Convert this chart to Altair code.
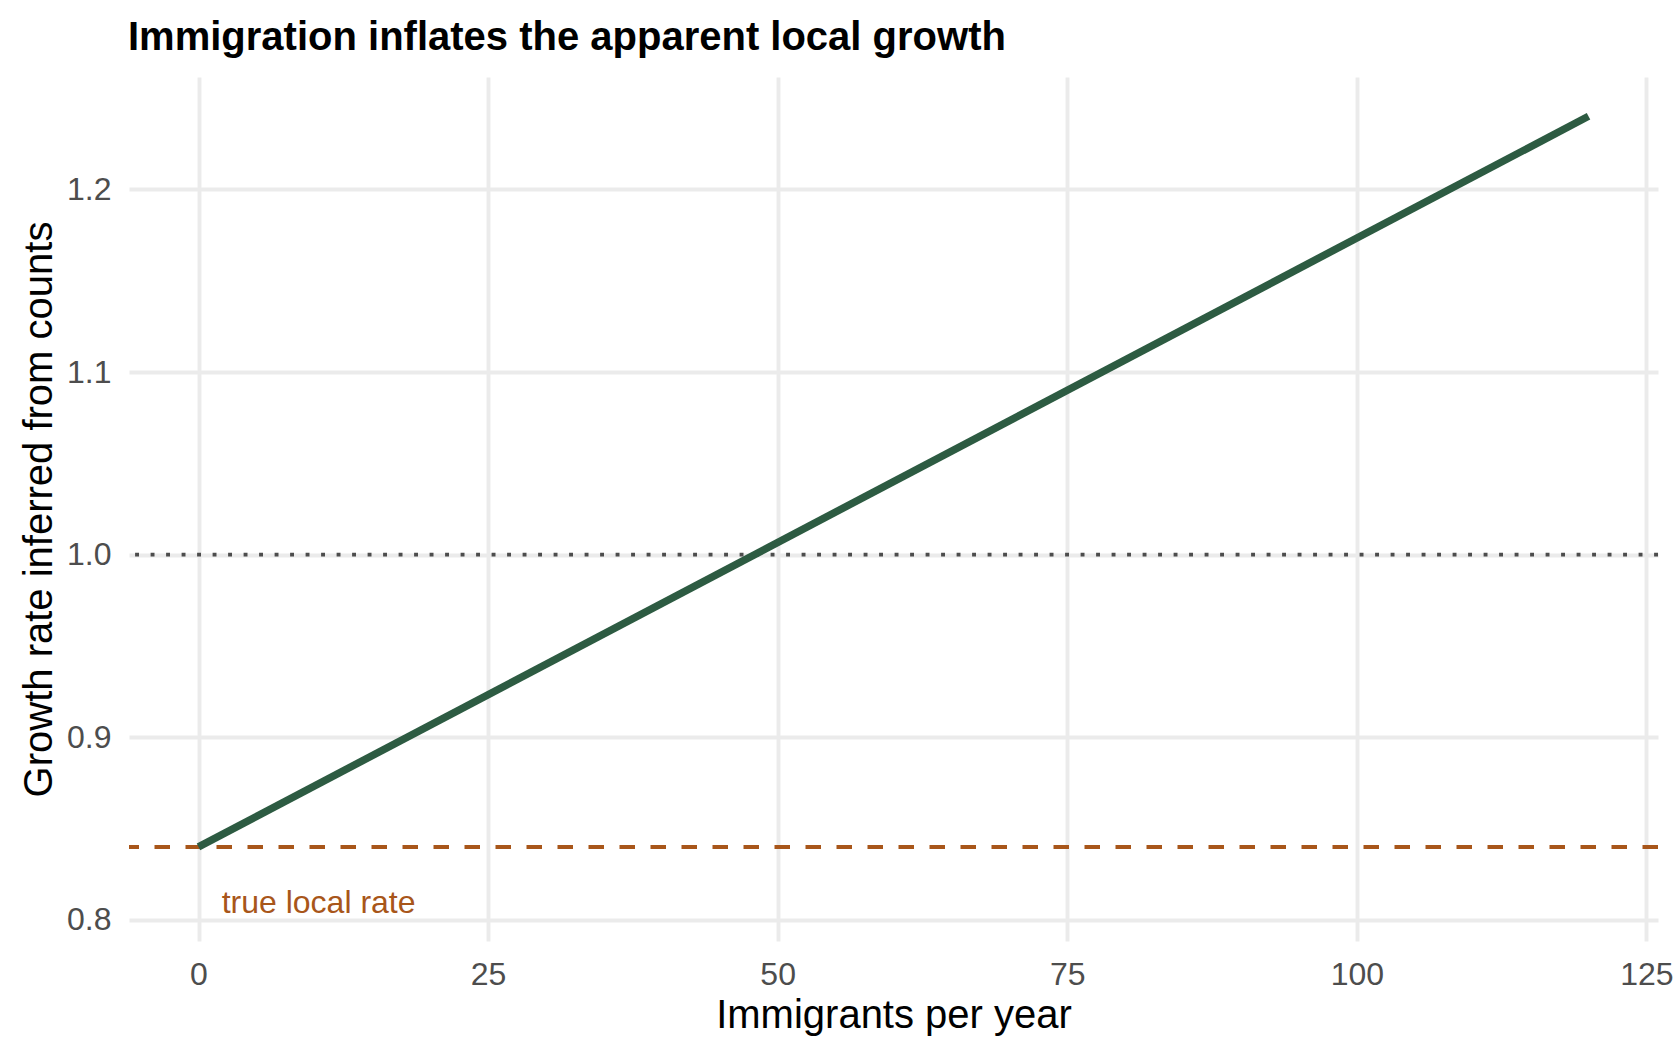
import altair as alt
import pandas as pd

# ---- data ----
immigrants = [0, 120]
inferred_rate = [0.84, 1.24]
true_rate = 0.84
reference_rate = 1.0
x_ticks = [0, 25, 50, 75, 100, 125]
y_ticks = [0.8, 0.9, 1.0, 1.1, 1.2]
label_text = "true local rate"
label_x = 2
label_y = 0.81

line_df = pd.DataFrame({"x": immigrants, "y": inferred_rate})
hline_df = pd.DataFrame({"y": [true_rate]})
ref_df = pd.DataFrame({"y": [reference_rate]})
text_df = pd.DataFrame({"x": [label_x], "y": [label_y], "t": [label_text]})

FONT = "Liberation Sans"
xscale = alt.Scale(domain=[-6, 126], nice=False, zero=False)
yscale = alt.Scale(domain=[0.7885, 1.2615], nice=False, zero=False)

W, H = 1529, 864

base_x = alt.X(
    "x:Q", scale=xscale,
    axis=alt.Axis(values=x_ticks, title="Immigrants per year", format="d",
                  titleX=W / 2, titleY=86.5, titleBaseline="alphabetic",
                  titleAlign="center"),
)
base_y = alt.Y(
    "y:Q", scale=yscale,
    axis=alt.Axis(values=y_ticks, title="Growth rate inferred from counts", format=".1f",
                  titleX=-78, titleY=H / 2, titleBaseline="alphabetic",
                  titleAlign="center", titleAngle=-90),
)

ref_rule = alt.Chart(ref_df).mark_rule(
    color="#4D4D4D", strokeWidth=3.9, strokeDash=[3.9, 11.6]
).encode(y=alt.Y("y:Q", scale=yscale))

true_rule = alt.Chart(hline_df).mark_rule(
    color="#A8561A", strokeWidth=3.9, strokeDash=[15.5, 15.5]
).encode(y=alt.Y("y:Q", scale=yscale))

line = alt.Chart(line_df).mark_line(
    color="#2D5B42", strokeWidth=7.5, strokeCap="butt"
).encode(x=base_x, y=base_y)

text = alt.Chart(text_df).mark_text(
    align="left", baseline="alphabetic", dy=11, fontSize=32, font=FONT, color="#A8561A"
).encode(x=alt.X("x:Q", scale=xscale), y=alt.Y("y:Q", scale=yscale), text="t:N")

chart = alt.layer(ref_rule, true_rule, line, text).properties(
    width=W,
    height=H,
    background="white",
    title=alt.TitleParams(
        "Immigration inflates the apparent local growth",
        anchor="start", frame="group", fontSize=40, font=FONT, fontWeight="bold",
        color="black", baseline="alphabetic", offset=-13, dx=-1,
    ),
    autosize=alt.AutoSizeParams(type="none"),
    padding={"left": 129, "top": 77, "right": 22, "bottom": 115},
).configure_view(stroke=None).configure_axis(
    grid=True, gridColor="#EBEBEB", gridWidth=3.9, domain=False, ticks=False,
    labelFont=FONT, labelFontSize=32, labelColor="#4D4D4D", labelPadding=18,
    titleFont=FONT, titleFontSize=40, titleColor="black", titleFontWeight="normal",
)

chart.save("out.html", embed_options={"renderer": "svg", "actions": False})
